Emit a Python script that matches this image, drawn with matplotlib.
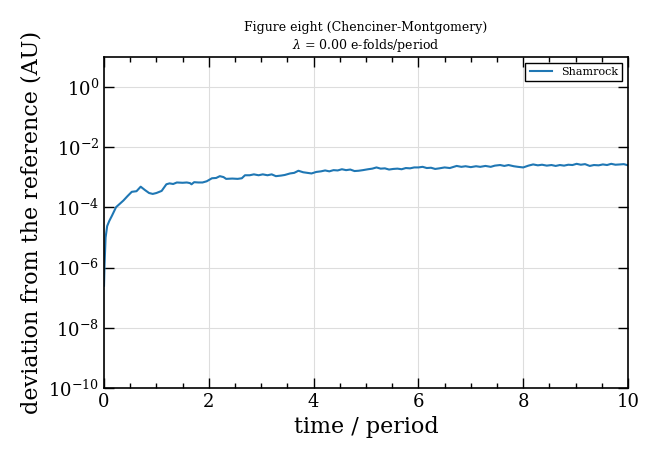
import matplotlib
matplotlib.use('Agg')
import matplotlib.pyplot as plt
import numpy as np
from matplotlib.ticker import AutoMinorLocator, NullLocator, FixedLocator

plt.rcParams['font.family'] = 'DejaVu Serif'
plt.rcParams['mathtext.fontset'] = 'dejavuserif'

# время в периодах и log10 отклонения
t = [0.0, 0.01, 0.03, 0.06, 0.1, 0.15, 0.23, 0.3, 0.37, 0.45, 0.53, 0.62, 0.70, 0.78,
     0.86, 0.93, 1.0, 1.1, 1.19, 1.25, 1.32, 1.39, 1.5, 1.58, 1.64, 1.67, 1.72, 1.8,
     1.88, 1.96, 2.06, 2.14, 2.21, 2.28, 2.33, 2.45, 2.55, 2.63, 2.69, 2.78, 2.86, 2.95,
     3.03, 3.12, 3.2, 3.28, 3.38, 3.45, 3.55, 3.63, 3.71, 3.8, 3.88, 3.96, 4.05, 4.14,
     4.22, 4.3, 4.38, 4.46, 4.54, 4.62, 4.7, 4.78, 4.86, 4.94, 5.04, 5.12, 5.2, 5.28,
     5.36, 5.44, 5.52, 5.6, 5.68, 5.76, 5.84, 5.92, 6.0, 6.08, 6.16, 6.24, 6.32, 6.4,
     6.5, 6.6, 6.73, 6.82, 6.9, 7.0, 7.1, 7.18, 7.28, 7.38, 7.46, 7.56, 7.64, 7.72,
     7.82, 7.9, 8.0, 8.1, 8.19, 8.28, 8.36, 8.45, 8.54, 8.62, 8.7, 8.78, 8.86, 8.94,
     9.02, 9.1, 9.18, 9.27, 9.35, 9.44, 9.52, 9.6, 9.68, 9.76, 9.85, 9.92, 10.0]
log_dev = [-6.6, -5.9, -5.0, -4.62, -4.45, -4.28, -3.99, -3.88, -3.77, -3.62, -3.48, -3.46, -3.31, -3.42,
           -3.52, -3.55, -3.52, -3.45, -3.23, -3.20, -3.22, -3.17, -3.18, -3.17, -3.19, -3.23, -3.16, -3.17,
           -3.17, -3.13, -3.03, -3.02, -2.96, -2.99, -3.05, -3.04, -3.05, -3.03, -2.93, -2.93, -2.90, -2.93,
           -2.90, -2.93, -2.90, -2.96, -2.94, -2.92, -2.87, -2.85, -2.78, -2.83, -2.85, -2.87, -2.82, -2.80,
           -2.77, -2.80, -2.76, -2.77, -2.73, -2.76, -2.74, -2.79, -2.78, -2.76, -2.73, -2.71, -2.67, -2.71,
           -2.70, -2.74, -2.72, -2.71, -2.73, -2.69, -2.70, -2.67, -2.67, -2.65, -2.69, -2.68, -2.72, -2.70,
           -2.67, -2.69, -2.62, -2.65, -2.63, -2.66, -2.63, -2.65, -2.62, -2.65, -2.61, -2.59, -2.62, -2.59,
           -2.63, -2.65, -2.67, -2.61, -2.57, -2.60, -2.58, -2.61, -2.59, -2.62, -2.59, -2.61, -2.58, -2.59,
           -2.55, -2.58, -2.56, -2.62, -2.59, -2.60, -2.57, -2.59, -2.55, -2.58, -2.57, -2.56, -2.60]
deviation = 10.0 ** np.array(log_dev)

fig = plt.figure(figsize=(6.6, 4.59), dpi=100)
ax = fig.add_axes([0.1576, 0.1547, 0.7939, 0.7211])

ax.plot(t, deviation, color='#1f77b4', linewidth=1.5, label='Shamrock')

ax.set_yscale('log')
ax.set_xlim(0, 10)
ax.set_ylim(1e-10, 1e1)
ax.yaxis.set_major_locator(FixedLocator([1e-10, 1e-8, 1e-6, 1e-4, 1e-2, 1e0]))
ax.yaxis.set_minor_locator(NullLocator())
ax.xaxis.set_minor_locator(AutoMinorLocator(4))

ax.tick_params(which='both', direction='in', top=True, right=True, labelsize=13)
ax.tick_params(which='major', length=7, width=1)
ax.tick_params(which='minor', length=3.5, width=1)
for s in ax.spines.values():
    s.set_linewidth(1.2)

ax.grid(True, color='#dddddd', linewidth=0.8)

ax.set_xlabel('time / period', fontsize=16)
ax.set_ylabel('deviation from the reference (AU)', fontsize=16)
ax.set_title('Figure eight (Chenciner-Montgomery)\n$\\lambda$ = 0.00 e-folds/period', fontsize=9)

leg = ax.legend(loc='upper right', fontsize=8, fancybox=False, edgecolor='black', framealpha=1)
leg.get_frame().set_linewidth(1.0)

fig.savefig('out.png', dpi=100)
